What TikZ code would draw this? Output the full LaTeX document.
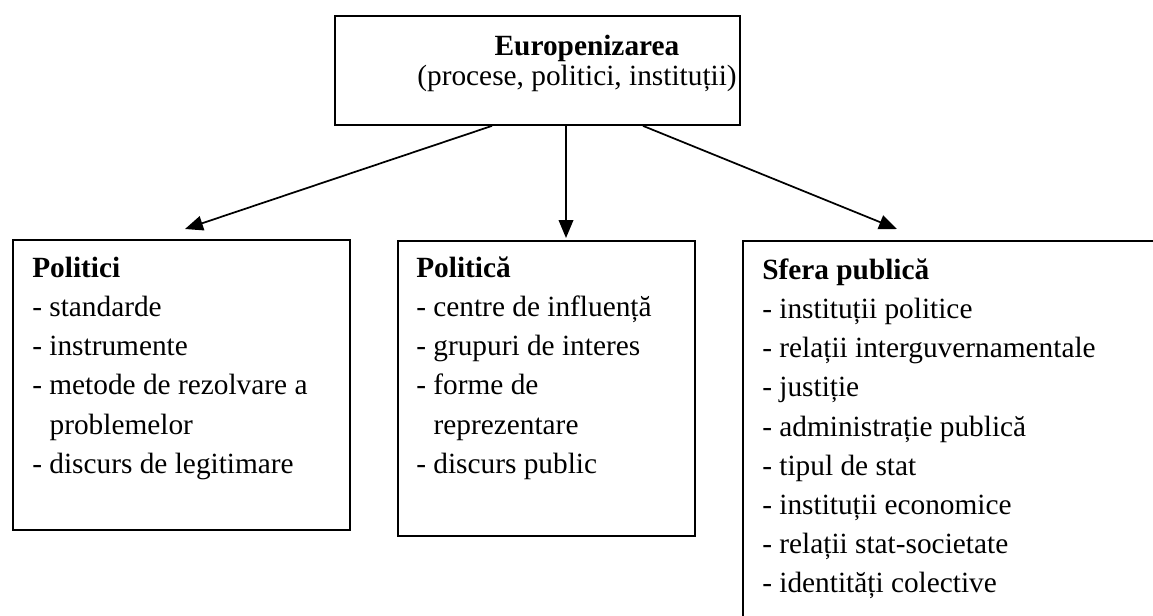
\documentclass[tikz,border=0pt]{standalone}
\usepackage{fontspec}
\setmainfont{Liberation Serif}
\usetikzlibrary{arrows.meta,calc}
\newcommand{\firststrut}{\rule{0pt}{16pt}}
\newcommand{\ind}{\hspace*{13pt}}
\begin{document}
\begin{tikzpicture}[x=0.75pt,y=-0.75pt,
  box/.style={draw,line width=1.4pt,inner sep=0pt,anchor=north west},
  arr/.style={line width=1.3pt,-{Triangle[length=13.5pt,width=11pt]}},
  txt/.style={inner sep=0pt,align=left,anchor=north west,font=\fontsize{22pt}{29.4pt}\selectfont},
  ttl/.style={inner sep=0pt,anchor=base,font=\fontsize{22pt}{29.4pt}\selectfont}]
\clip (0,0) rectangle (1153,615);
\fill[white] (0,0) rectangle (1153,615);
% boxes
\node[box,minimum width=303.75pt,minimum height=81.75pt] (top) at (334,15) {};
\node[box,minimum width=252.75pt,minimum height=217.5pt] (left) at (12,239) {};
\node[box,minimum width=222.75pt,minimum height=221.25pt] (mid) at (397,240) {};
\node[box,minimum width=336pt,minimum height=315pt] (right) at (742,240) {};
% top texts
\node[ttl,font=\fontsize{22pt}{29.4pt}\selectfont\bfseries] (t1) at (587,55) {Europenizarea};
\node[ttl] (t2) at (577,85) {(procese, politici, instituții)};
% arrow tips
\coordinate (ltip) at (185,229);
\coordinate (mtip) at (566,238);
\coordinate (rtip) at (897,229);
\draw[arr] ($(top.south west)+(158,0)$) -- (ltip);
\draw[arr] ($(top.south west)+(232,0)$) -- (mtip);
\draw[arr] ($(top.south west)+(309,0)$) -- (rtip);
% box texts
\node[txt] (lt) at (32,255.7) {\firststrut\textbf{Politici}\\
- standarde\\
- instrumente\\
- metode de rezolvare a\\
\ind problemelor\\
- discurs de legitimare};
\node[txt] (mt) at (416,255.7) {\firststrut\textbf{Politică}\\
- centre de influență\\
- grupuri de interes\\
- forme de\\
\ind reprezentare\\
- discurs public};
\node[txt] (rt) at (762,257.7) {\firststrut\textbf{Sfera publică}\\
- instituții politice\\
- relații interguvernamentale\\
- justiție\\
- administrație publică\\
- tipul de stat\\
- instituții economice\\
- relații stat-societate\\
- identități colective};
\end{tikzpicture}
\end{document}
